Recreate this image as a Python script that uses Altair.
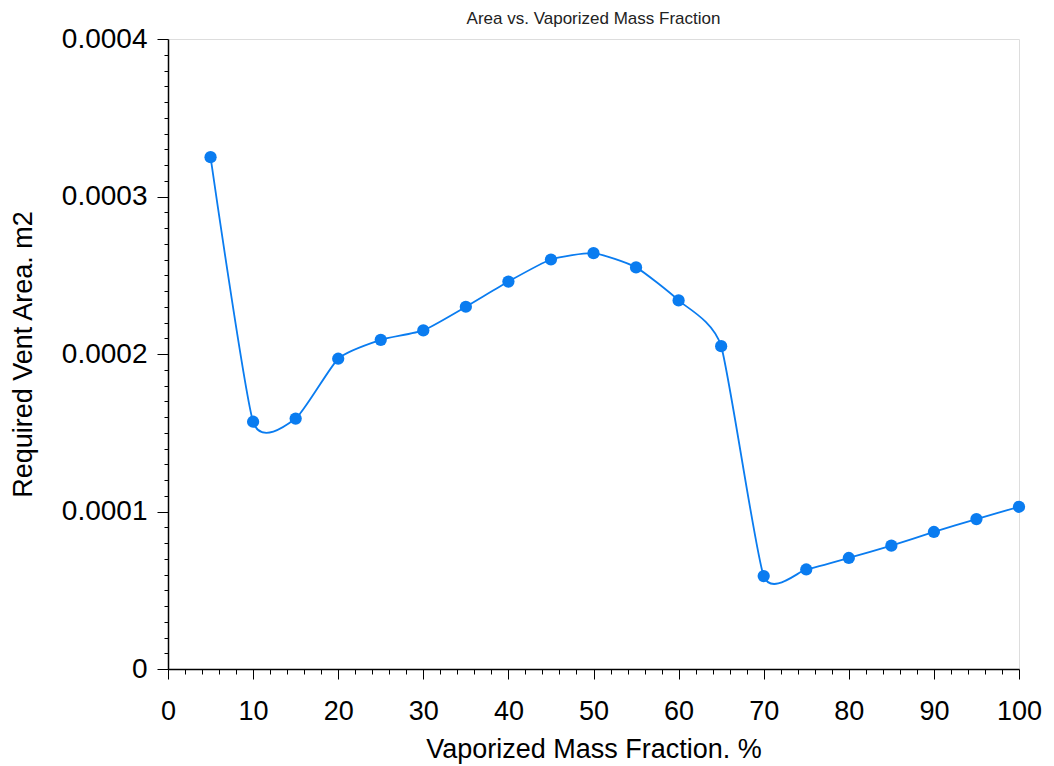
import altair as alt
import pandas as pd

# Data
mass_fraction = [5, 10, 15, 20, 25, 30, 35, 40, 45, 50,
                 55, 60, 65, 70, 75, 80, 85, 90, 95, 100]
vent_area = [0.000325, 0.000157, 0.000159, 0.000197, 0.000209, 0.000215,
             0.000230, 0.000246, 0.000260, 0.000264, 0.000255, 0.000234,
             0.000205, 0.0000590, 0.0000632, 0.0000705, 0.0000783,
             0.0000870, 0.0000952, 0.000103]

# Axis tick positions (major + minor)
x_ticks = list(range(0, 101, 2))
y_ticks = [round(i * 0.00001, 5) for i in range(0, 41)]

df = pd.DataFrame({"x": mass_fraction, "y": vent_area})

BLUE = "#0a7cf0"
FONT = "Liberation Sans"

y_major = "abs(datum.value*10000 - round(datum.value*10000)) < 0.001"
x_major = "datum.value % 10 == 0"

x_enc = alt.X(
    "x:Q",
    scale=alt.Scale(domain=[0, 100], nice=False, zero=False),
    axis=alt.Axis(
        title="Vaporized Mass Fraction. %",
        values=x_ticks,
        tickCount=500,
        labelExpr=f"{x_major} ? format(datum.value, 'd') : ''",
        tickSize={"condition": {"test": x_major, "value": 10}, "value": 5},
        labelOverlap=False,
        labelFlush=False,
        grid=False,
        labelFontSize=27,
        titleFontSize=27,
        labelFont=FONT,
        titleFont=FONT,
        titleFontWeight="normal",
        labelColor="#000000",
        titleColor="#000000",
        domainColor="#000000",
        tickColor="#000000",
        domainWidth=1.5,
        tickWidth=1,
        labelPadding=19,
        titlePadding=12,
    ),
)
y_enc = alt.Y(
    "y:Q",
    scale=alt.Scale(domain=[0, 0.0004], nice=False, zero=False),
    axis=alt.Axis(
        title="Required Vent Area. m2",
        values=y_ticks,
        tickCount=500,
        labelExpr=f"{y_major} ? (datum.value == 0 ? '0' : format(datum.value, '.4f')) : ''",
        tickSize={"condition": {"test": y_major, "value": 11}, "value": 4},
        labelOverlap=False,
        labelFlush=False,
        grid=False,
        labelFontSize=28,
        titleFontSize=27,
        labelFont=FONT,
        titleFont=FONT,
        titleFontWeight="normal",
        labelColor="#000000",
        titleColor="#000000",
        domainColor="#000000",
        tickColor="#000000",
        domainWidth=1.5,
        tickWidth=1,
        labelPadding=10,
        titlePadding=24,
    ),
)

line = alt.Chart(df).mark_line(
    interpolate="cardinal", tension=0.45, color=BLUE, strokeWidth=1.8
).encode(x=x_enc, y=y_enc)

points = alt.Chart(df).mark_circle(
    color=BLUE, size=150, opacity=1
).encode(x="x:Q", y="y:Q")

chart = (
    alt.layer(line, points)
    .properties(
        width=851,
        height=630,
        title=alt.TitleParams(
            "Area vs. Vaporized Mass Fraction",
            fontSize=17,
            font=FONT,
            fontWeight="normal",
            color="#222222",
            anchor="middle",
            offset=2,
            dy=5,
        ),
        autosize=alt.AutoSizeParams(type="none"),
        padding={"left": 168, "top": 39, "right": 35, "bottom": 97},
    )
    .configure_view(strokeWidth=0, stroke="transparent")
    .configure(background="white")
)

chart.save("out.html", embed_options={"renderer": "svg", "actions": False})
